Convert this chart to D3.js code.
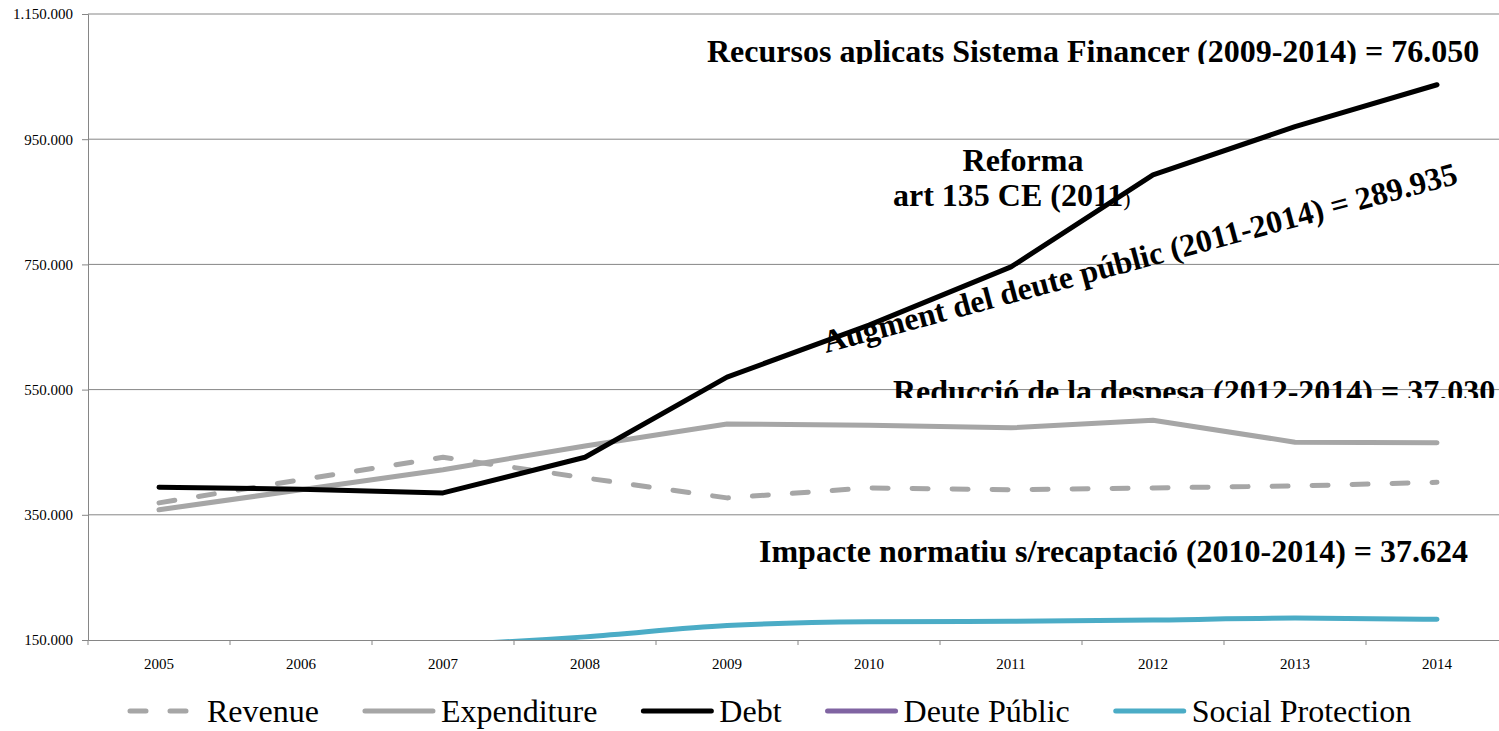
<!DOCTYPE html>
<html lang="ca">
<head>
<meta charset="UTF-8">
<title>Deute, despesa i ingressos 2005-2014</title>
<script src="https://d3js.org/d3.v7.min.js"></script>
<style>
    body { margin: 0; background: #fff; }
    svg { display: block; font-family: "Liberation Serif", "Times New Roman", serif; }
    .tick text { font-size: 15px; fill: #000; font-family: "Liberation Serif", "Times New Roman", serif; }
    .note { font-size: 32px; font-weight: bold; fill: #000; }
    .legend text { font-size: 32px; fill: #000; }
</style>
</head>
<body>
<svg id="chart" width="1499" height="731"></svg>
<script>
// years on the x axis
var years = ["2005", "2006", "2007", "2008", "2009", "2010", "2011", "2012", "2013", "2014"];

// values in millions of euros
var revenue     = [369000, 406000, 442000, 409000, 377000, 393000, 390000, 393000, 396000, 402000];
var expenditure = [358000, 390000, 422000, 460000, 495000, 493000, 489000, 501000, 466000, 465000];
var debt        = [394000, 391000, 385000, 442000, 570000, 653000, 746000, 893000, 970000, 1037000];
var deutePublic = [null, null, null, null, null, null, null, null, null, null];
var socialProtection = [128000, 134000, 142000, 155000, 173000, 179000, 180000, 182000, 185000, 183000];

var yTicks = [150000, 350000, 550000, 750000, 950000, 1150000];

var series = [
    {name: "Revenue", values: revenue, color: "#a6a6a6", dash: "16,24"},
    {name: "Expenditure", values: expenditure, color: "#a6a6a6"},
    {name: "Debt", values: debt, color: "#000000"},
    {name: "Deute Públic", values: deutePublic, color: "#8064a2"},
    {name: "Social Protection", values: socialProtection, color: "#4bacc6", smooth: true}
];

var margin = {top: 14, left: 88, bottom: 91},
    width = 1420,
    height = 731 - margin.top - margin.bottom;

var svg = d3.select("#chart");
var g = svg.append("g").attr("transform", "translate(" + margin.left + "," + margin.top + ")");

var x = d3.scaleBand().domain(years).range([0, width]).padding(0);
var y = d3.scaleLinear().domain([150000, 1150000]).range([height, 0]);

var fmt = d3.formatLocale({decimal: ",", thousands: ".", grouping: [3], currency: ["", ""]}).format(",");

// text boxes (they sit behind the grid, some are cut by their box)
var defs = svg.append("defs");
function clipBox(id, top, bottom) {
    defs.append("clipPath").attr("id", id)
        .append("rect").attr("x", 0).attr("y", top).attr("width", 1499).attr("height", bottom - top);
    return "url(#" + id + ")";
}

svg.append("text").attr("class", "note")
    .attr("x", 707).attr("y", 62)
    .attr("clip-path", clipBox("c1", 0, 64))
    .text("Recursos aplicats Sistema Financer (2009-2014) = 76.050");

svg.append("text").attr("class", "note")
    .attr("x", 1023).attr("y", 171).attr("text-anchor", "middle")
    .text("Reforma");

var art = svg.append("text").attr("class", "note")
    .attr("x", 893).attr("y", 206);
art.append("tspan").text("art 135 CE (2011");
art.append("tspan").style("font-weight", "normal").style("font-size", "22px").text(")");

svg.append("text").attr("class", "note")
    .attr("transform", "translate(826,353) rotate(-15)")
    .text("Augment del deute públic (2011-2014) = 289.935");

svg.append("text").attr("class", "note")
    .attr("x", 893).attr("y", 402)
    .attr("clip-path", clipBox("c2", 0, 398))
    .text("Reducció de la despesa (2012-2014) = 37.030");

svg.append("text").attr("class", "note")
    .attr("x", 759).attr("y", 562)
    .text("Impacte normatiu s/recaptació (2010-2014) = 37.624");

// y axis + grid
var yAxis = g.append("g")
    .call(d3.axisLeft(y).tickValues(yTicks).tickFormat(fmt).tickSize(6).tickPadding(9))
    .attr("font-family", null);
yAxis.select(".domain").attr("stroke", "#868686");
yAxis.selectAll(".tick line").attr("stroke", "#868686");

g.append("g").selectAll("line")
    .data(yTicks.slice(1))
    .join("line")
    .attr("x1", 0).attr("x2", width)
    .attr("y1", d => y(d)).attr("y2", d => y(d))
    .attr("stroke", "#868686").attr("stroke-width", 1);

// x axis: ticks between categories
var xAxis = g.append("g").attr("transform", "translate(0," + height + ")")
    .call(d3.axisBottom(x).tickSize(0).tickPadding(18))
    .attr("font-family", null);
xAxis.select(".domain").attr("stroke", "#868686");
xAxis.selectAll(".tick line").remove();
xAxis.selectAll(".sep")
    .data(years)
    .join("line")
    .attr("x1", d => x(d)).attr("x2", d => x(d))
    .attr("y1", 0).attr("y2", 5)
    .attr("stroke", "#868686");

// lines, cut at the plot area
defs.append("clipPath").attr("id", "plot")
    .append("rect").attr("x", 0).attr("y", 0).attr("width", width).attr("height", height);

var cx = d => x(d.year) + x.bandwidth() / 2;

var lines = g.append("g").attr("clip-path", "url(#plot)");
series.forEach(function(s) {
    var pts = years.map((yr, i) => ({year: yr, v: s.values[i]}));
    var line = d3.line()
        .defined(d => d.v != null)
        .x(cx)
        .y(d => y(d.v))
        .curve(s.smooth ? d3.curveMonotoneX : d3.curveLinear);
    lines.append("path")
        .datum(pts)
        .attr("d", line)
        .attr("fill", "none")
        .attr("stroke", s.color)
        .attr("stroke-width", 5)
        .attr("stroke-linecap", "round")
        .attr("stroke-linejoin", "round")
        .attr("stroke-dasharray", s.dash || null);
});

// legend
var legend = svg.append("g").attr("class", "legend").attr("transform", "translate(130,711)");
var lx = 0;
series.forEach(function(s, i) {
    var item = legend.append("g").attr("transform", "translate(" + lx + ",0)");
    item.append("line")
        .attr("x1", 0).attr("x2", i === 0 ? 62 : 68)
        .attr("y1", 0).attr("y2", 0)
        .attr("stroke", s.color)
        .attr("stroke-width", 5)
        .attr("stroke-linecap", "round")
        .attr("stroke-dasharray", s.dash ? "16,24" : null);
    var t = item.append("text")
        .attr("x", i === 0 ? 77 : 76).attr("y", 11)
        .text(s.name);
    lx += (i === 0 ? 77 : 76) + t.node().getComputedTextLength() + 46;
});
</script>
</body>
</html>
